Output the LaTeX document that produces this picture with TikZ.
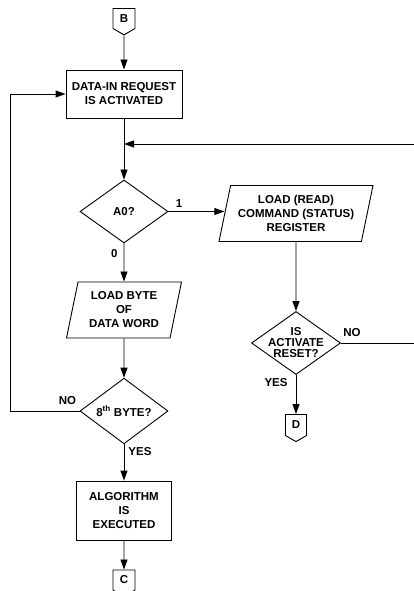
\documentclass[tikz,border=0pt]{standalone}
\usepackage{fontspec}
\setmainfont{Liberation Sans}
\usetikzlibrary{arrows.meta, positioning, shapes.geometric, shapes.symbols}

\begin{document}
\begin{tikzpicture}[
    x=1pt, y=-1pt,
    ->,
    >={Triangle[length=10pt, width=7pt]},
    line width=0.9pt,
    node distance=100pt,
    on grid,
    every node/.style={font=\bfseries\fontsize{11.5}{14}\selectfont},
    block/.style={rectangle, draw, align=center, inner sep=2pt},
    io/.style={trapezium, trapezium left angle=74, trapezium right angle=106,
        trapezium stretches body, draw, align=center, inner sep=2pt},
    decision/.style={diamond, draw, align=center, inner sep=0pt,
        minimum width=88pt, minimum height=63pt},
    offpage/.style={signal, signal to=south, signal from=nowhere,
        signal pointer angle=120, draw, minimum width=22pt,
        minimum height=23pt, inner sep=1pt},
    tag/.style={inner sep=0pt},
]

    \useasboundingbox (0,0) rectangle (413,591);

    \node[offpage]                                                  (B)        at (124,18.5) {B};
    \node[block, minimum width=116pt, minimum height=48pt, below=75.5pt of B]    (dataIn)   {DATA-IN REQUEST\\IS ACTIVATED};
    \node[decision,                                     below=117.5pt of dataIn] (A0)       {A0?};
    \node[io, minimum width=154pt, minimum height=56pt, right=172pt of A0, yshift=-2pt] (loadCmd)  {LOAD (READ)\\COMMAND (STATUS)\\REGISTER};
    \node[decision, minimum width=89pt,                 below=129.5pt of loadCmd] (reset)   {};
    \node[align=center, font=\bfseries\fontsize{11.5}{11}\selectfont] (resetText) at (reset) {IS\\ACTIVATE\\RESET?};
    \node[offpage, minimum width=21pt, minimum height=24pt, below=82pt of reset] (D)        {D};
    \node[io, minimum width=115pt, minimum height=56pt, below=98.5pt of A0]      (loadByte) {LOAD BYTE\\OF\\DATA WORD};
    \node[decision,                                     below=101pt of loadByte] (byte8)    {8\textsuperscript{th} BYTE?};
    \node[block, minimum width=95pt, minimum height=59pt, below=99.5pt of byte8] (algo)     {ALGORITHM\\IS\\EXECUTED};
    \node[offpage,                                      below=69.5pt of algo]    (C)        {C};

    \coordinate (rightTop) at (414,144);
    \coordinate (loopLeft) at (10,0);

    \path
        (B)        edge (dataIn)
        (dataIn)   edge (A0)
        (A0.east)  edge node[tag, pos=0, anchor=south west, xshift=7pt, yshift=4pt]   {1}   (A0.east -| loadCmd.west)
        (A0)       edge node[tag, pos=0, anchor=north east, xshift=-6pt, yshift=-6pt] {0}   (loadByte)
        (loadCmd)  edge (reset)
        (reset)    edge node[tag, pos=0, anchor=north east, xshift=-8pt, yshift=-3pt] {YES} (D)
        (loadByte) edge (byte8)
        (byte8)    edge node[tag, pos=0, anchor=north west, xshift=4pt, yshift=-3pt]  {YES} (algo)
        (algo)     edge (C)
    ;

    % back to the A0 test
    \draw (reset.east) node[tag, anchor=south west, xshift=2pt, yshift=6pt] {NO}
        -| (rightTop) -- (dataIn |- rightTop);
    % next byte
    \draw (byte8.west) node[tag, anchor=south east, xshift=-3pt, yshift=6pt] {NO}
        -- (byte8.west -| loopLeft) |- (dataIn.west);
\end{tikzpicture}
\end{document}
